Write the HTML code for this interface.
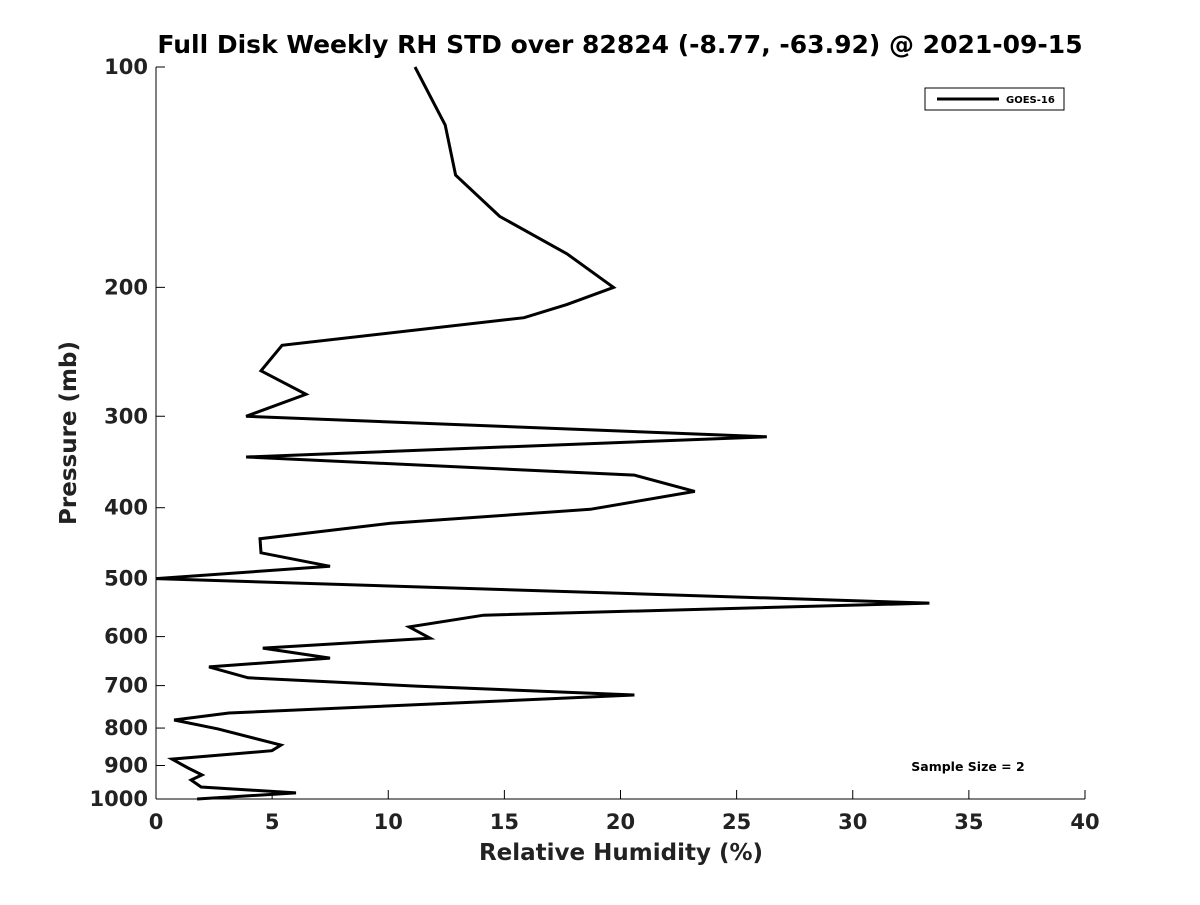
<!DOCTYPE html>
<html><head><meta charset="utf-8"><style>
body{margin:0;background:#fff;}
svg text{font-family:"DejaVu Sans","Liberation Sans",sans-serif;font-weight:bold;fill:#222;}
</style></head><body>
<svg id="chart" width="1200" height="900">
<text x="620" y="53" text-anchor="middle" font-size="25" style="fill:#000">Full Disk Weekly RH STD over 82824 (-8.77, -63.92) @ 2021-09-15</text>
<g id="axes"></g>
<g id="series"></g>
<g>
<rect x="925" y="88" width="139" height="22" fill="#fff" stroke="#000" stroke-width="1"/>
<line x1="937" y1="99" x2="999" y2="99" stroke="#000" stroke-width="3"/>
<text x="1006" y="103" font-size="10" style="fill:#000">GOES-16</text>
</g>
<text x="968" y="771" text-anchor="middle" font-size="12.5" style="fill:#000">Sample Size = 2</text>
<text x="621" y="860" text-anchor="middle" font-size="23">Relative Humidity (%)</text>
<text transform="translate(76,433) rotate(-90)" text-anchor="middle" font-size="23">Pressure (mb)</text>
</svg>
<script>
const xTicks=[0,5,10,15,20,25,30,35,40];
const yTicks=[100,200,300,400,500,600,700,800,900,1000];
const rh=[11.15,12.45,12.9,14.8,17.7,19.7,17.7,15.85,5.43,4.52,6.46,3.88,26.3,3.88,20.6,23.2,18.7,10.1,4.48,4.52,7.49,0,33.3,14.1,10.9,11.8,4.6,7.49,2.28,3.96,11.2,20.6,3.14,0.78,2.67,5.38,4.99,0.69,1.38,1.98,1.51,1.94,6.03,1.77];
const pres=[100,120,140.5,160,180,200,211,220,240,260,280,300,320,341,361,380,402,420,441,461,481,500,540,561,582,603,622,642,660,683,701,721,763,780,802,844,859,882,907,927,942,963,981,1000];
const X0=156,X1=1085,Y0=67,Y1=799;
const xs=v=>X0+(v-0)/40*(X1-X0);
const ys=p=>Y0+(Math.log10(p)-2)*(Y1-Y0);
const NS='http://www.w3.org/2000/svg';
const ax=document.getElementById('axes');
function mk(t,a,par){const e=document.createElementNS(NS,t);for(const k in a)e.setAttribute(k,a[k]);par.appendChild(e);return e;}
const xl=mk('line',{x1:X0,y1:Y1,x2:X1,y2:Y1,stroke:'#000','stroke-width':1},ax);


const yl=mk('line',{x1:X0,y1:Y0,x2:X0,y2:Y1,stroke:'#000','stroke-width':1},ax);


xTicks.forEach(v=>{
 const x=xs(v);
 mk('line',{x1:x,y1:Y1,x2:x,y2:Y1-9,stroke:'#000'},ax);
 const t=mk('text',{x:x,y:Y1+30,'text-anchor':'middle','font-size':21},ax);
 t.textContent=v;
 
 
});
yTicks.forEach(v=>{
 const y=ys(v);
 mk('line',{x1:X0,y1:y,x2:X0+9,y2:y,stroke:'#000'},ax);
 const t=mk('text',{x:X0-8,y:y+7,'text-anchor':'end','font-size':21},ax);
 t.textContent=v;
 
 
});
const pts=rh.map((v,i)=>xs(v).toFixed(1)+','+ys(pres[i]).toFixed(1)).join(' ');
const pl=mk('polyline',{points:pts,fill:'none',stroke:'#000','stroke-width':3,'stroke-linejoin':'miter'},document.getElementById('series'));


</script>
</body></html>
